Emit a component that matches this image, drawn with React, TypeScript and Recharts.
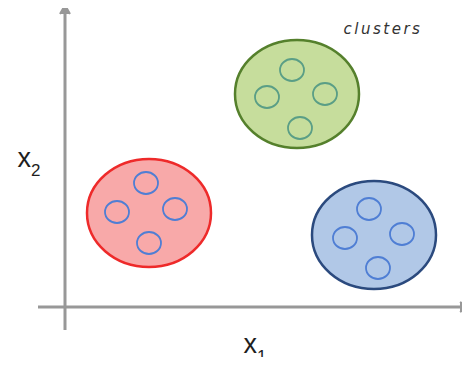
// App.tsx
import React from 'react';
import { ScatterChart, Scatter, XAxis, YAxis, ReferenceLine, ReferenceDot } from 'recharts';

// cluster centres (x1, x2)
const clusterNames = ['red', 'green', 'blue'];
const clusterX1 = [21, 58, 77.25];
const clusterX2 = [23.5, 53.25, 18];

// member points, four per cluster (top, left, right, bottom)
const memberCluster = ['red', 'red', 'red', 'red', 'green', 'green', 'green', 'green', 'blue', 'blue', 'blue', 'blue'];
const memberX1 = [20.25, 13, 27.5, 21, 56.75, 50.5, 65, 58.75, 76, 70, 84.25, 78.25];
const memberX2 = [31, 23.75, 24.5, 16, 59.25, 52.5, 53.25, 44.75, 24.5, 17.25, 18.25, 9.75];

const x1Domain = [-6.75, 101.25];
const x2Domain = [-5.75, 75.5];

const clusterStyle: Record<string, { fill: string; stroke: string; member: string }> = {
    red: { fill: '#f8a9a9', stroke: '#ee2a2a', member: '#4f7ed4' },
    green: { fill: '#c6dd9c', stroke: '#55802c', member: '#5a9e86' },
    blue: { fill: '#b1c8e7', stroke: '#2b4a7e', member: '#4f7ed4' },
};

const clusters = clusterNames.map((name, i) => ({ name, x1: clusterX1[i], x2: clusterX2[i] }));
const members = memberCluster.map((name, i) => ({ name, x1: memberX1[i], x2: memberX2[i] }));

const ClusterShape = (props: any) => {
    const s = clusterStyle[props.payload.name];
    return <ellipse cx={props.cx} cy={props.cy} rx={62} ry={54} fill={s.fill} stroke={s.stroke} strokeWidth={2.5} />;
};

const MemberShape = (props: any) => {
    const s = clusterStyle[props.payload.name];
    return <ellipse cx={props.cx} cy={props.cy} rx={12} ry={11} fill="none" stroke={s.member} strokeWidth={1.8} />;
};

const ArrowLine = (props: any) => {
    const { x1, y1, x2, y2 } = props;
    const vertical = Math.abs(x1 - x2) < 0.5;
    // arrow drawn at the end with the larger value
    const tipX = vertical ? x1 : Math.max(x1, x2) - 1;
    const tipY = vertical ? Math.min(y1, y2) : y1;
    const head = vertical
        ? `M${tipX - 5},${tipY + 9} L${tipX},${tipY} L${tipX + 5},${tipY + 9}`
        : `M${tipX - 9},${tipY - 5} L${tipX},${tipY} L${tipX - 9},${tipY + 5}`;
    return (
        <g>
            <line x1={x1} y1={y1} x2={x2} y2={y2} stroke="#989898" strokeWidth={3} />
            <path d={head} fill="#989898" stroke="#989898" strokeWidth={2} />
        </g>
    );
};

const AxisName = (sub: string) => (props: any) => {
    const x = props.viewBox?.x ?? props.viewBox?.cx;
    const y = props.viewBox?.y ?? props.viewBox?.cy;
    return (
        <text x={x} y={y} textAnchor="middle" fill="#1e1e1e" fontFamily="Arial, 'Liberation Sans', sans-serif" fontSize={27}>
            x<tspan fontSize={17} dy={9}>{sub}</tspan>
        </text>
    );
};

const ClustersNote = (props: any) => {
    const x = props.viewBox?.x ?? props.viewBox?.cx;
    const y = props.viewBox?.y ?? props.viewBox?.cy;
    return (
        <text x={x} y={y} textAnchor="middle" dominantBaseline="central" fill="#333" fontSize={15}
            fontStyle="italic" fontFamily="'DejaVu Sans', sans-serif" letterSpacing={2.5}>
            clusters
        </text>
    );
};

export default function App() {
    return (
        <div style={{ width: 470, height: 365, margin: -8, background: '#fff' }}>
            <ScatterChart width={470} height={365} margin={{ top: 5, right: 0, bottom: 35, left: 38 }}>
                <XAxis type="number" dataKey="x1" domain={x1Domain} hide allowDataOverflow />
                <YAxis type="number" dataKey="x2" domain={x2Domain} hide allowDataOverflow />
                <ReferenceLine
                    segment={[{ x: x1Domain[0], y: 0 }, { x: x1Domain[1], y: 0 }]}
                    shape={ArrowLine}
                    ifOverflow="visible"
                />
                <ReferenceLine
                    segment={[{ x: 0, y: x2Domain[0] }, { x: 0, y: x2Domain[1] }]}
                    shape={ArrowLine}
                    ifOverflow="visible"
                />
                <Scatter data={clusters} dataKey="x2" shape={ClusterShape} isAnimationActive={false} />
                <Scatter data={members} dataKey="x2" shape={MemberShape} isAnimationActive={false} />
                <ReferenceDot x={47.5} y={-11.5} r={0} ifOverflow="visible" label={AxisName('1')} />
                <ReferenceDot x={-9} y={35} r={0} ifOverflow="visible" label={AxisName('2')} />
                <ReferenceDot x={79.5} y={69.5} r={0} ifOverflow="visible" label={ClustersNote} />
            </ScatterChart>
        </div>
    );
}
